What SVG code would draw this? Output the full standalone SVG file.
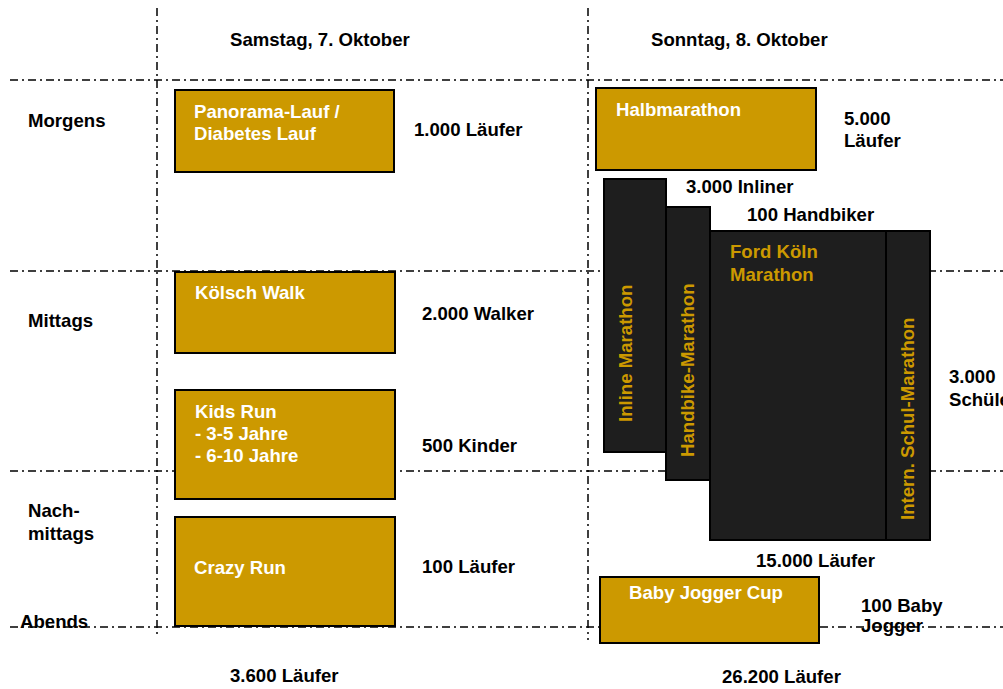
<svg xmlns="http://www.w3.org/2000/svg" width="1003" height="689" viewBox="0 0 1003 689">
<style>
text{font-family:"Liberation Sans",Arial,sans-serif;font-weight:bold;font-size:18.6px;fill:#000}
.w{fill:#fff}
.g{fill:#CC9900}
.grid{stroke:#000;stroke-width:1.5;stroke-dasharray:8 4 2 4;fill:none}
.gold{fill:#CC9900;stroke:#000;stroke-width:2}
.dark{fill:#1E1E1E;stroke:#000;stroke-width:2}
</style>
<rect width="1003" height="689" fill="#fff"/>
<g id="connectors">
<line class="grid" x1="157" y1="8" x2="157" y2="634"/>
<line class="grid" x1="588" y1="8" x2="588" y2="640"/>
<line class="grid" x1="10" y1="80" x2="1003" y2="80"/>
<line class="grid" x1="10" y1="271" x2="1003" y2="271"/>
<line class="grid" x1="10" y1="471" x2="1003" y2="471"/>
<line class="grid" x1="10" y1="627" x2="1003" y2="627"/>
</g>
<g id="headers">
<text x="230" y="46">Samstag, 7. Oktober</text>
<text x="651" y="46">Sonntag, 8. Oktober</text>
<text x="28" y="127">Morgens</text>
<text x="28" y="327">Mittags</text>
<text x="28" y="517">Nach-</text>
<text x="28" y="540">mittags</text>
<text x="20" y="628">Abends</text>
</g>
<g id="panorama">
<rect class="gold" x="175" y="90" width="219" height="82"/>
<text class="w" x="194" y="118">Panorama-Lauf /</text>
<text class="w" x="194" y="140">Diabetes Lauf</text>
<text x="414" y="136">1.000 Läufer</text>
</g>
<g id="koelsch">
<rect class="gold" x="175" y="272" width="220" height="81"/>
<text class="w" x="195" y="299">Kölsch Walk</text>
<text x="422" y="320">2.000 Walker</text>
</g>
<g id="kids">
<rect class="gold" x="175" y="390" width="220" height="109"/>
<text class="w" x="195" y="418">Kids Run</text>
<text class="w" x="195" y="440">- 3-5 Jahre</text>
<text class="w" x="195" y="462">- 6-10 Jahre</text>
<text x="422" y="452">500 Kinder</text>
</g>
<g id="crazy">
<rect class="gold" x="175" y="517" width="220" height="109"/>
<text class="w" x="194" y="574">Crazy Run</text>
<text x="422" y="573">100 Läufer</text>
</g>
<g id="halb">
<rect class="gold" x="596" y="88" width="220" height="82"/>
<text class="w" x="616" y="116">Halbmarathon</text>
<text x="844" y="125">5.000</text>
<text x="844" y="147">Läufer</text>
</g>
<g id="inline">
<rect class="dark" x="604" y="179" width="62" height="273"/>
<text class="g" transform="translate(632 422) rotate(-90)">Inline Marathon</text>
<text x="686" y="193">3.000 Inliner</text>
</g>
<g id="handbike">
<rect class="dark" x="666" y="207" width="44" height="273"/>
<text class="g" transform="translate(694 457) rotate(-90)">Handbike-Marathon</text>
<text x="747" y="221">100 Handbiker</text>
</g>
<g id="ford">
<rect class="dark" x="710" y="231" width="176" height="309"/>
<text class="g" x="730" y="258">Ford Köln</text>
<text class="g" x="730" y="281">Marathon</text>
<text x="756" y="567">15.000 Läufer</text>
</g>
<g id="schul">
<rect class="dark" x="886" y="231" width="44" height="309"/>
<text class="g" transform="translate(914 520) rotate(-90)">Intern. Schul-Marathon</text>
<text x="949" y="383">3.000</text>
<text x="949" y="406">Schüler</text>
</g>
<g id="baby">
<rect class="gold" x="600" y="577" width="219" height="66"/>
<text class="w" x="629" y="599">Baby Jogger Cup</text>
<text x="861" y="612">100 Baby</text>
<text x="861" y="632">Jogger</text>
</g>
<g id="totals">
<text x="230" y="682">3.600 Läufer</text>
<text x="722" y="683">26.200 Läufer</text>
</g>
</svg>
